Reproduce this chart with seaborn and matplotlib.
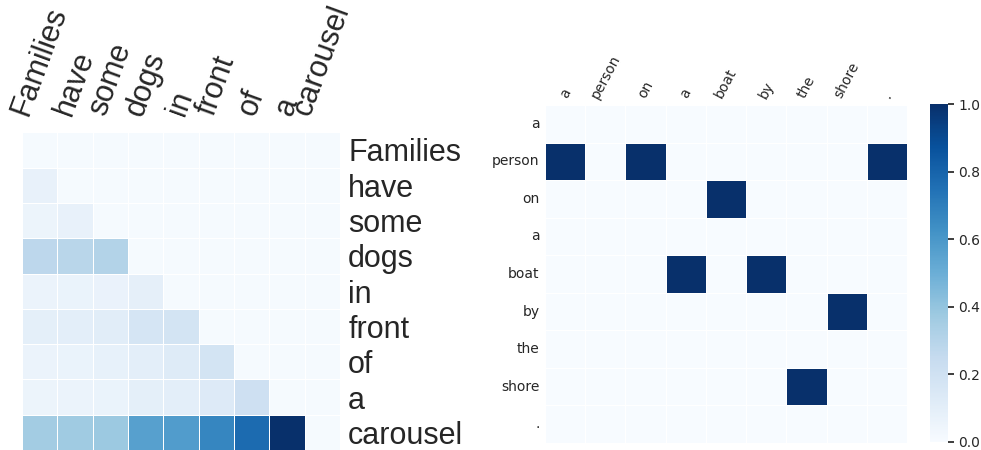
import numpy as np
import matplotlib
matplotlib.use("Agg")
import matplotlib.pyplot as plt
import seaborn as sns

sns.set_theme(style="white")

# left panel: attention over the caption
left_words = ["Families", "have", "some", "dogs", "in", "front", "of", "a", "carousel"]
left_attn = [
    [0.01, 0.01, 0.01, 0.01, 0.01, 0.01, 0.01, 0.01, 0.01],
    [0.075, 0.01, 0.01, 0.01, 0.01, 0.01, 0.01, 0.01, 0.01],
    [0.055, 0.075, 0.01, 0.01, 0.01, 0.01, 0.01, 0.01, 0.01],
    [0.28, 0.29, 0.31, 0.01, 0.01, 0.01, 0.01, 0.01, 0.01],
    [0.06, 0.065, 0.07, 0.09, 0.01, 0.01, 0.01, 0.01, 0.01],
    [0.095, 0.10, 0.11, 0.175, 0.18, 0.01, 0.01, 0.01, 0.01],
    [0.06, 0.065, 0.08, 0.10, 0.125, 0.18, 0.01, 0.01, 0.01],
    [0.055, 0.06, 0.065, 0.095, 0.10, 0.13, 0.21, 0.01, 0.01],
    [0.36, 0.37, 0.38, 0.56, 0.58, 0.67, 0.77, 1.0, 0.01],
]

# right panel: binary alignment
right_words = ["a", "person", "on", "a", "boat", "by", "the", "shore", "."]
right_attn = [
    [0, 0, 0, 0, 0, 0, 0, 0, 0],
    [1, 0, 1, 0, 0, 0, 0, 0, 1],
    [0, 0, 0, 0, 1, 0, 0, 0, 0],
    [0, 0, 0, 0, 0, 0, 0, 0, 0],
    [0, 0, 0, 1, 0, 1, 0, 0, 0],
    [0, 0, 0, 0, 0, 0, 0, 1, 0],
    [0, 0, 0, 0, 0, 0, 0, 0, 0],
    [0, 0, 0, 0, 0, 0, 1, 0, 0],
    [0, 0, 0, 0, 0, 0, 0, 0, 0],
]

fig = plt.figure(figsize=(9.81, 4.5), dpi=100)
ax1 = fig.add_axes([0.0224, 0.0, 0.324, 0.706])
ax2 = fig.add_axes([0.5556, 0.0156, 0.369, 0.751])
cax = fig.add_axes([0.948, 0.0178, 0.0183, 0.751])

sns.heatmap(np.array(left_attn), ax=ax1, cmap="Blues", vmin=0, vmax=1,
            cbar=False, linewidths=0.5, linecolor="white",
            xticklabels=left_words, yticklabels=left_words)
ax1.xaxis.tick_top()
ax1.yaxis.tick_right()
ax1.tick_params(axis="x", length=0, pad=9)
ax1.tick_params(axis="y", length=0, pad=6)
for t in ax1.get_xticklabels():
    t.set_rotation(70)
    t.set_fontsize(22)
    t.set_family("Liberation Sans")
    t.set_color("#262626")
for t in ax1.get_yticklabels():
    t.set_rotation(0)
    t.set_fontsize(22)
    t.set_family("Liberation Sans")
    t.set_color("#262626")
    t.set_ha("left")

sns.heatmap(np.array(right_attn), ax=ax2, cmap="Blues", vmin=0, vmax=1,
            cbar_ax=cax, linewidths=0.5, linecolor="white",
            xticklabels=right_words, yticklabels=right_words)
ax2.xaxis.tick_top()
ax2.tick_params(axis="x", length=0, pad=3, labelsize=10)
ax2.tick_params(axis="y", length=0, pad=4, labelsize=10)
plt.setp(ax2.get_xticklabels(), rotation=62)
plt.setp(ax2.get_yticklabels(), rotation=0)
cax.set_yticks([0.0, 0.2, 0.4, 0.6, 0.8, 1.0])
cax.tick_params(labelsize=10, length=4)

fig.savefig("out.png", dpi=100)
